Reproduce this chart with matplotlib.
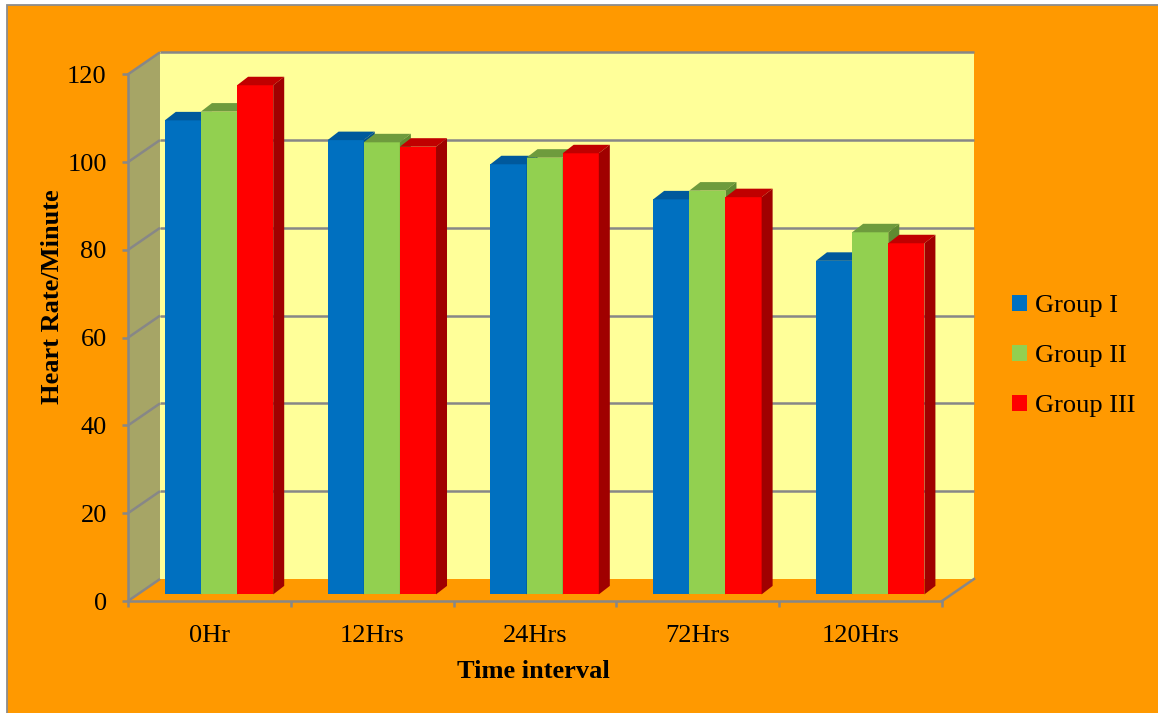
import matplotlib
matplotlib.use("Agg")
import matplotlib.pyplot as plt
from matplotlib.patches import Polygon, Rectangle, Patch

# --- data -------------------------------------------------------------
categories = ["0Hr", "12Hrs", "24Hrs", "72Hrs", "120Hrs"]
series_names = ["Group I", "Group II", "Group III"]
group1 = [108.0, 103.5, 98.0, 90.0, 76.0]
group2 = [110.0, 103.0, 99.5, 92.0, 82.5]
group3 = [116.0, 102.0, 100.5, 90.5, 80.0]
y_ticks = [0, 20, 40, 60, 80, 100, 120]

front_colors = ["#0070C0", "#92D050", "#FF0000"]
top_colors = ["#00599C", "#6E9B3D", "#C00000"]
side_colors = ["#004F8A", "#5F8A31", "#A00000"]

ORANGE = "#FF9900"
WALL = "#FFFF99"
SIDE_WALL = "#A6A566"
GRID = "#878787"
FONT = "Liberation Serif"
FS = 19

W, H = 1158, 713
fig = plt.figure(figsize=(W / 100, H / 100), dpi=100, facecolor="white")

# chart area background with thin grey border
fig.patches.append(Rectangle((7.5 / W, -0.05), 1.1, (708.5 / H) + 0.05,
                             transform=fig.transFigure, facecolor=ORANGE,
                             edgecolor="#8C8C8C", linewidth=1.3, zorder=-10))

# plot axes: front plane of the pseudo-3D box
x0, x1 = 128, 942
y_bot, y_top = 601, 74.3
ax = fig.add_axes([x0 / W, (H - y_bot) / H, (x1 - x0) / W, (y_bot - y_top) / H])
ax.set_zorder(1)
ax.set_xlim(0, len(categories))
ax.set_ylim(0, 120)
ax.patch.set_alpha(0)

# depth offset of the back wall in data units
px_per_cat = (x1 - x0) / len(categories)
px_per_val = (y_bot - y_top) / 120.0
DX = 32 / px_per_cat
DY = 22 / px_per_val
nc = len(categories)

# back wall and side wall
ax.add_patch(Polygon([(DX, DY), (nc + DX, DY), (nc + DX, 120 + DY), (DX, 120 + DY)],
                     closed=True, facecolor=WALL, edgecolor="none", zorder=1, clip_on=False))
ax.add_patch(Polygon([(0, 0), (DX, DY), (DX, 120 + DY), (0, 120)],
                     closed=True, facecolor=SIDE_WALL, edgecolor="none", zorder=1, clip_on=False))

# grid lines running along side wall and across back wall
for v in y_ticks:
    ax.plot([0, DX], [v, v + DY], color=GRID, lw=1.8, zorder=2, clip_on=False,
            solid_capstyle="butt")
    if v > 0:
        ax.plot([DX, nc + DX], [v + DY, v + DY], color=GRID, lw=1.8, zorder=2,
                clip_on=False, solid_capstyle="butt")
# floor right edge
ax.plot([nc, nc + DX], [0, DY], color=GRID, lw=1.8, zorder=2, clip_on=False)

# bars
series = [group1, group2, group3]
bw = 0.222
f0 = 0.30
sx = f0 * DX
sy = f0 * DY
side_dx = 11 / px_per_cat
side_dy = 8.5 / px_per_val
z = 3
for ci in range(nc):
    for si, vals in enumerate(series):
        left = ci + 0.5 + (si - 1.5) * bw + sx
        v = vals[ci]
        ax.bar(left, v, width=bw, bottom=sy, align="edge", color=front_colors[si],
               linewidth=0, zorder=z, clip_on=False)
        top = v + sy
        ax.add_patch(Polygon([(left, top), (left + bw, top),
                              (left + bw + side_dx, top + side_dy),
                              (left + side_dx, top + side_dy)],
                             closed=True, facecolor=top_colors[si], edgecolor="none",
                             zorder=z + 0.1, clip_on=False))
        ax.add_patch(Polygon([(left + bw, sy), (left + bw + side_dx, sy + side_dy),
                              (left + bw + side_dx, top + side_dy), (left + bw, top)],
                             closed=True, facecolor=side_colors[si], edgecolor="none",
                             zorder=z + 0.2, clip_on=False))
        z += 1

# axes lines and ticks
for name in ["top", "right"]:
    ax.spines[name].set_visible(False)
for name in ["left", "bottom"]:
    ax.spines[name].set_color(GRID)
    ax.spines[name].set_linewidth(1.8)
    ax.spines[name].set_zorder(2)

ax.set_yticks(y_ticks)
ax.set_yticklabels([str(t) for t in y_ticks], fontsize=FS, fontfamily=FONT)
ax.tick_params(axis="y", direction="out", length=4.3, width=1.8, color=GRID, pad=11)

ax.set_xticks(range(nc + 1))
ax.set_xticklabels([])
ax.set_xticks([i + 0.5 for i in range(nc)], minor=True)
ax.set_xticklabels(categories, minor=True, fontsize=FS, fontfamily=FONT)
ax.tick_params(axis="x", which="major", direction="out", length=4.3, width=1.8, color=GRID)
ax.tick_params(axis="x", which="minor", length=0, pad=17)

# axis titles
fig.text(533 / W, (H - 672) / H, "Time interval", fontsize=FS, fontweight="bold",
         fontfamily=FONT, ha="center", va="center")
fig.text(53 / W, (H - 297) / H, "Heart Rate/Minute", fontsize=FS, fontweight="bold",
         fontfamily=FONT, ha="center", va="center", rotation=90)

# legend
handles = [Patch(facecolor=c, edgecolor="none") for c in front_colors]
fig.legend(handles, series_names, loc="center left",
           bbox_to_anchor=(1012 / W, (H - 356) / H), frameon=False,
           prop={"family": FONT, "size": FS}, handlelength=0.56, handleheight=0.56,
           handletextpad=0.3, labelspacing=1.05, borderpad=0, borderaxespad=0)

fig.savefig("out.png", dpi=100, facecolor="white")
